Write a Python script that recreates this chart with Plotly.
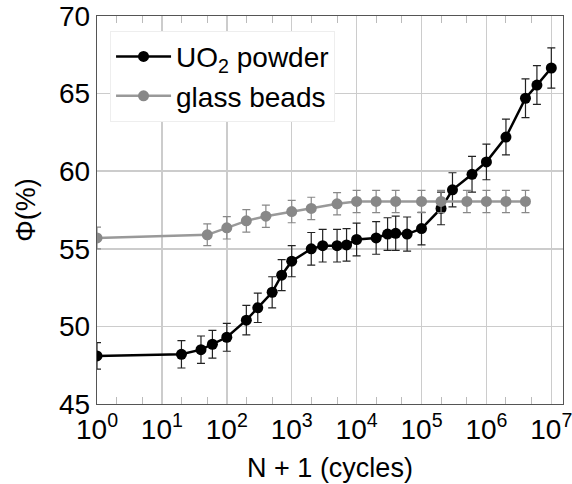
import plotly.graph_objects as go

# UO2 powder
uo2_x = [1, 20, 40, 60, 100, 200, 300, 500, 700, 1000, 2000, 3000, 5000, 7000,
         1e4, 2e4, 3e4, 4e4, 6e4, 1e5, 2e5, 3e5, 6e5, 1e6, 2e6, 4e6, 6e6, 1e7]
uo2_y = [48.1, 48.2, 48.5, 48.85, 49.3, 50.4, 51.2, 52.2, 53.3, 54.2, 55.0, 55.2, 55.2, 55.25,
         55.6, 55.7, 55.95, 56.0, 55.95, 56.3, 57.6, 58.8, 59.8, 60.6, 62.2, 64.7, 65.55, 66.65]
uo2_err = [0.85, 0.88, 0.88, 0.9, 0.9, 0.95, 0.95, 1.0, 1.0, 1.0, 1.05, 1.05, 1.05, 1.05,
           1.05, 1.05, 1.05, 1.1, 1.1, 1.05, 1.05, 1.1, 1.15, 1.15, 1.15, 1.25, 1.25, 1.3]

# glass beads
gb_x = [1, 50, 100, 200, 400, 1000, 2000, 5000, 1e4, 2e4, 4e4, 1e5, 2e5, 5e5, 1e6, 2e6, 4e6]
gb_y = [55.7, 55.9, 56.35, 56.8, 57.1, 57.4, 57.6, 57.9, 58.05, 58.05, 58.05, 58.05, 58.05,
        58.05, 58.05, 58.05, 58.05]
gb_err = [0.7, 0.7, 0.72, 0.72, 0.72, 0.72, 0.72, 0.72, 0.72, 0.72, 0.72, 0.72, 0.72,
          0.72, 0.72, 0.72, 0.72]

x_tickvals = [1, 10, 100, 1e3, 1e4, 1e5, 1e6, 1e7]
x_ticktext = ["10<sup>%d</sup>" % i for i in range(8)]
y_tickvals = [45, 50, 55, 60, 65, 70]

FONT = "Liberation Sans, Arial, sans-serif"

fig = go.Figure()
fig.add_trace(go.Scatter(
    x=uo2_x, y=uo2_y, mode="lines+markers", name="UO<sub>2</sub> powder",
    line=dict(color="#000000", width=2.5),
    marker=dict(color="#000000", size=11),
    error_y=dict(type="data", array=uo2_err, visible=True, color="#222222", thickness=1.2, width=4),
))
fig.add_trace(go.Scatter(
    x=gb_x, y=gb_y, mode="lines+markers", name="glass beads",
    line=dict(color="#999999", width=2.5),
    marker=dict(color="#888888", size=11),
    error_y=dict(type="data", array=gb_err, visible=True, color="#888888", thickness=1.2, width=4),
))

fig.update_layout(
    width=572, height=484,
    margin=dict(l=97, r=9, t=16, b=80, autoexpand=False),
    paper_bgcolor="white", plot_bgcolor="white",
    font=dict(family=FONT, size=26, color="#000000"),
    showlegend=True,
    legend=dict(x=0.028, y=0.962, xanchor="left", yanchor="top",
                bgcolor="rgba(255,255,255,1)", bordercolor="#eeeeee", borderwidth=1,
                font=dict(size=28), itemwidth=55, tracegroupgap=0),
    xaxis=dict(
        type="log", range=[0, 7.18], automargin=False,
        tickvals=x_tickvals, ticktext=x_ticktext,
        tickfont=dict(size=28), ticklabeloverflow="allow",
        showgrid=True, gridcolor="#cccccc", gridwidth=1.5,
        showline=True, linecolor="#555555", linewidth=1.2, mirror="allticks",
        ticks="inside", ticklen=7, tickcolor="#cccccc",
        minor=dict(ticks="inside", ticklen=7, tickcolor="#bbbbbb", showgrid=False),
        zeroline=False,
        title=dict(text="N + 1 (cycles)", font=dict(size=27), standoff=14),
    ),
    yaxis=dict(
        range=[45, 70], tickvals=y_tickvals, automargin=False,
        tickfont=dict(size=28), ticklabeloverflow="allow",
        showgrid=True, gridcolor="#cccccc", gridwidth=1.5,
        showline=True, linecolor="#555555", linewidth=1.2, mirror=True,
        ticks="", zeroline=False,
        title=dict(text="Φ(%)", font=dict(size=27), standoff=15),
    ),
)

# remove the browser's default 8px body margin so the figure fills the window
fig.write_html("out.html", config={"displayModeBar": False, "staticPlot": True},
               post_script="document.body.style.margin='0';document.body.style.overflow='hidden';")
